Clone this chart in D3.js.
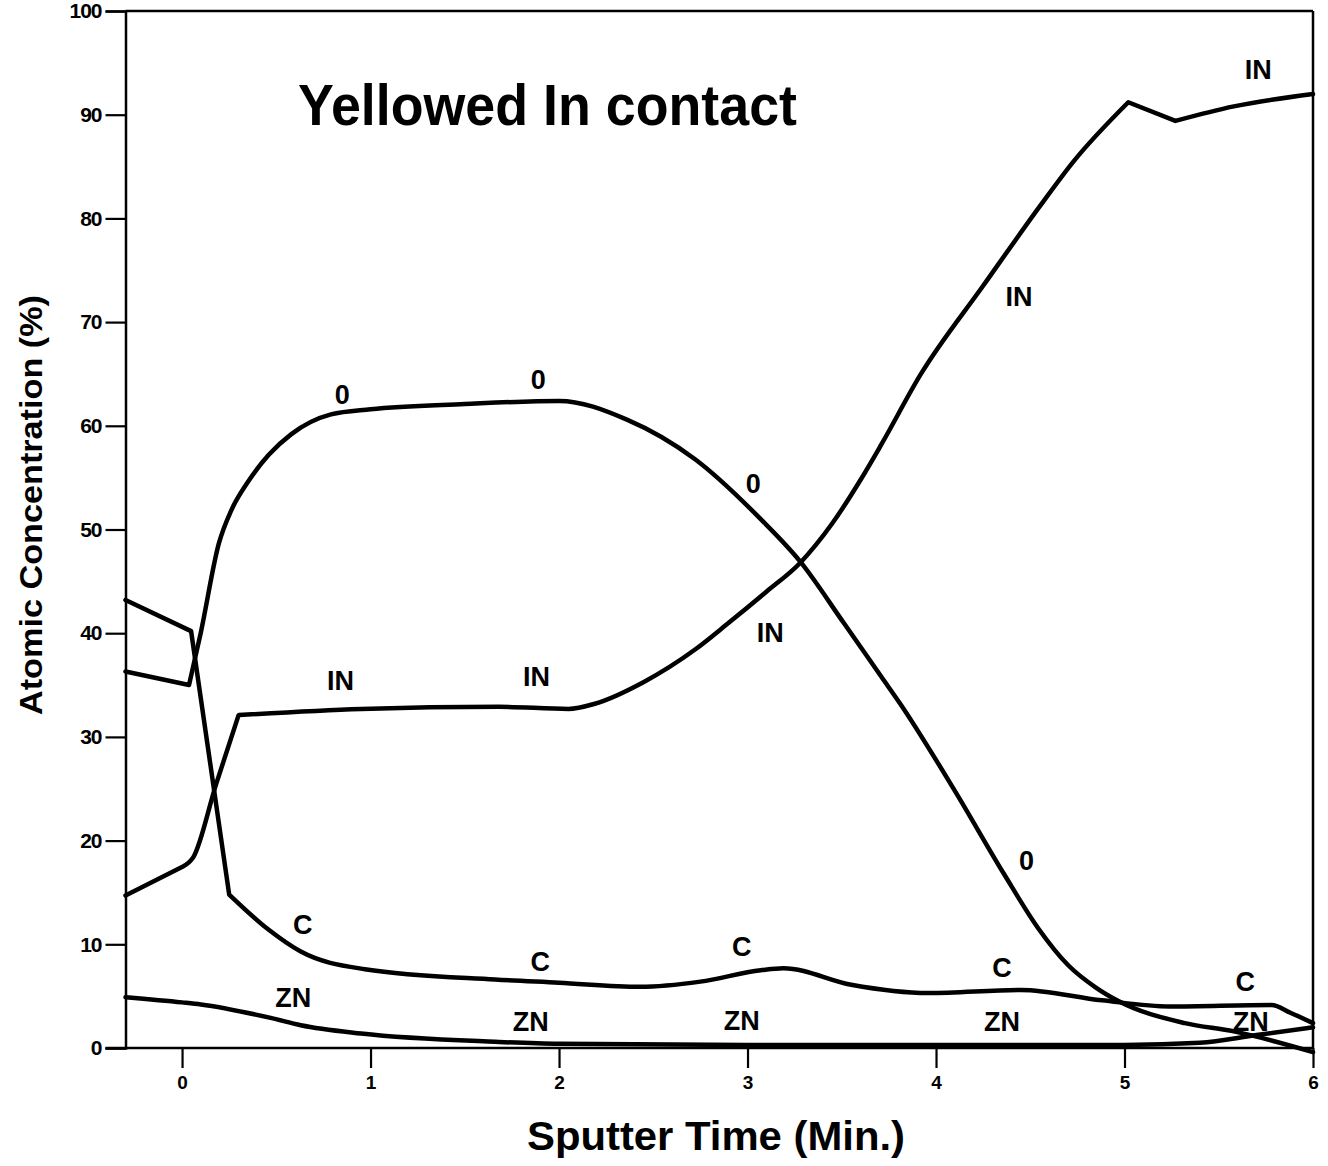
<!DOCTYPE html>
<html>
<head>
<meta charset="utf-8">
<script src="https://cdn.jsdelivr.net/npm/d3@7"></script>
<style>
  html, body { margin: 0; padding: 0; background: #fff; }
  svg { display: block; }
  text { font-family: "Liberation Sans", Arial, Helvetica, sans-serif; font-weight: bold; fill: #000; }
</style>
</head>
<body>
<svg id="chart" width="1328" height="1166"></svg>
<script>
// Auger depth profile: atomic concentration (%) vs sputter time (min)
const titleText = "Yellowed In contact";
const xTitle = "Sputter Time (Min.)";
const yTitle = "Atomic Concentration (%)";

const xTicks = [0, 1, 2, 3, 4, 5, 6];
const yTicks = [0, 10, 20, 30, 40, 50, 60, 70, 80, 90, 100];

// [time, concentration]
const oxygen = [
  [-0.30, 36.3], [0.037, 35.0], [0.10, 40.1], [0.196, 48.7], [0.26, 51.8],
  [0.35, 54.6], [0.46, 57.2], [0.58, 59.2], [0.79, 61.1], [1.0, 61.6],
  [1.5, 62.1], [2.0, 62.4], [2.36, 60.6], [2.72, 56.8], [3.07, 51.0],
  [3.28, 46.9], [3.51, 41.0], [3.71, 35.8], [3.81, 33.2], [4.10, 24.8],
  [4.36, 16.8], [4.54, 11.6], [4.70, 8.0], [4.85, 5.8], [4.97, 4.5],
  [5.32, 2.4], [5.58, 1.6], [6.0, -0.4]
];
const indium = [
  [-0.30, 14.7], [0.005, 17.5], [0.06, 18.4], [0.18, 25.4], [0.30, 32.1],
  [0.95, 32.7], [1.68, 32.9], [2.05, 32.7], [2.19, 33.2], [2.45, 35.3],
  [2.72, 38.4], [2.90, 41.0], [3.10, 44.0], [3.28, 46.8], [3.45, 50.6],
  [3.60, 54.8], [3.71, 58.2], [3.92, 65.0], [4.25, 73.5], [4.56, 81.4],
  [4.73, 85.5], [5.02, 91.2], [5.27, 89.4], [5.58, 90.8], [6.0, 92.0]
];
const carbon = [
  [-0.30, 43.2], [0.048, 40.2], [0.25, 14.8], [0.46, 11.4],
  [0.63, 9.3], [0.97, 7.6], [1.66, 6.6], [2.0, 6.3], [2.43, 5.9],
  [2.75, 6.4], [3.07, 7.5], [3.19, 7.7], [3.55, 6.1], [3.96, 5.3],
  [4.45, 5.6], [4.88, 4.6], [5.24, 4.0], [5.78, 4.15], [5.88, 3.4],
  [6.0, 2.4]
];
const zinc = [
  [-0.30, 4.9], [0.0, 4.4], [0.10, 4.2], [0.47, 2.9], [0.63, 2.2],
  [0.95, 1.4], [1.66, 0.6], [2.0, 0.4], [3.0, 0.3], [4.0, 0.3],
  [5.0, 0.3], [5.4, 0.5], [5.7, 1.25], [6.0, 2.0]
];

// times where a profile has a sharp corner
const oxygenCorners = [0.037];
const indiumCorners = [0.005, 0.30, 5.02, 5.27];
const carbonCorners = [0.048, 0.25];
const zincCorners = [];

// curve labels: [time, concentration] of each label centre
const oxygenLabels = [[0.85, 63.0], [1.89, 64.4], [3.03, 54.4], [4.48, 18.0]];
const indiumLabels = [[0.84, 35.4], [1.88, 35.8], [3.12, 40.0], [4.44, 72.4], [5.71, 94.3]];
const carbonLabels = [[0.64, 11.9], [1.90, 8.3], [2.97, 9.7], [4.35, 7.7], [5.64, 6.4]];
const zincLabels = [[0.59, 4.8], [1.85, 2.5], [2.97, 2.6], [4.35, 2.5], [5.67, 2.5]];

const series = [
  { name: "0", values: oxygen, corners: oxygenCorners, labels: oxygenLabels },
  { name: "IN", values: indium, corners: indiumCorners, labels: indiumLabels },
  { name: "C", values: carbon, corners: carbonCorners, labels: carbonLabels },
  { name: "ZN", values: zinc, corners: zincCorners, labels: zincLabels }
];

const svg = d3.select("#chart");
const x = d3.scaleLinear().domain([-0.3, 6]).range([125.5, 1313]);
const y = d3.scaleLinear().domain([0, 100]).range([1048, 11]);

// frame: top and right edges
svg.append("line")
  .attr("x1", x(-0.3)).attr("x2", x(6)).attr("y1", y(100)).attr("y2", y(100))
  .attr("stroke", "#000").attr("stroke-width", 2.5);
svg.append("line")
  .attr("x1", x(6)).attr("x2", x(6)).attr("y1", y(100)).attr("y2", y(0))
  .attr("stroke", "#000").attr("stroke-width", 2.5);

// axes
const xAxis = d3.axisBottom(x).tickValues(xTicks).tickFormat(d3.format("d"))
  .tickSize(20).tickPadding(8);
const gx = svg.append("g").attr("transform", `translate(0,${y(0)})`).call(xAxis);
gx.select(".domain").attr("d", `M${x(-0.3) - 20},0H${x(6)}`);

const yAxis = d3.axisLeft(y).tickValues(yTicks).tickFormat(d3.format("d"))
  .tickSize(20).tickPadding(4);
const gy = svg.append("g").attr("transform", `translate(${x(-0.3)},0)`).call(yAxis);

[gx, gy].forEach(g => {
  g.selectAll(".domain").attr("stroke", "#000").attr("stroke-width", 2.5);
  g.selectAll(".tick line").attr("stroke", "#000").attr("stroke-width", 2.2);
  g.selectAll(".tick text").attr("fill", "#000")
    .style("font-family", '"Liberation Sans", Arial, sans-serif')
    .style("font-weight", "bold");
});
gx.selectAll(".tick text").style("font-size", "19px");
gy.selectAll(".tick text").style("font-size", "21px").attr("letter-spacing", "-1px");

// profile curves: smooth pieces joined at the sharp corners
const line = d3.line()
  .x(d => x(d[0]))
  .y(d => y(d[1]))
  .curve(d3.curveMonotoneX);

function pieces(values, corners) {
  const out = [];
  let cur = [];
  values.forEach(p => {
    cur.push(p);
    if (corners.includes(p[0])) { out.push(cur); cur = [p]; }
  });
  if (cur.length > 1) out.push(cur);
  return out;
}

function profilePath(s) {
  return pieces(s.values, s.corners)
    .map(seg => line(seg))
    .map((d, i) => (i ? d.replace(/^M/, "L") : d))
    .join("");
}

svg.append("g").selectAll("path")
  .data(series)
  .join("path")
  .attr("d", profilePath)
  .attr("fill", "none")
  .attr("stroke", "#000")
  .attr("stroke-width", 4.5)
  .attr("stroke-linejoin", "round")
  .attr("stroke-linecap", "round");

// element labels along the curves
const lbl = svg.append("g");
series.forEach(s => {
  lbl.selectAll(null)
    .data(s.labels)
    .join("text")
    .attr("x", d => x(d[0]))
    .attr("y", d => y(d[1]))
    .attr("text-anchor", "middle")
    .attr("dominant-baseline", "central")
    .style("font-size", "27px")
    .text(s.name);
});

// titles
svg.append("text")
  .attr("x", 298).attr("y", 125)
  .attr("textLength", 499).attr("lengthAdjust", "spacingAndGlyphs")
  .style("font-size", "58px")
  .text(titleText);

svg.append("text")
  .attr("x", 527).attr("y", 1150)
  .attr("textLength", 378).attr("lengthAdjust", "spacingAndGlyphs")
  .style("font-size", "40px")
  .text(xTitle);

svg.append("text")
  .attr("transform", "translate(42,715) rotate(-90)")
  .attr("textLength", 420).attr("lengthAdjust", "spacingAndGlyphs")
  .style("font-size", "32px")
  .text(yTitle);
</script>
</body>
</html>
